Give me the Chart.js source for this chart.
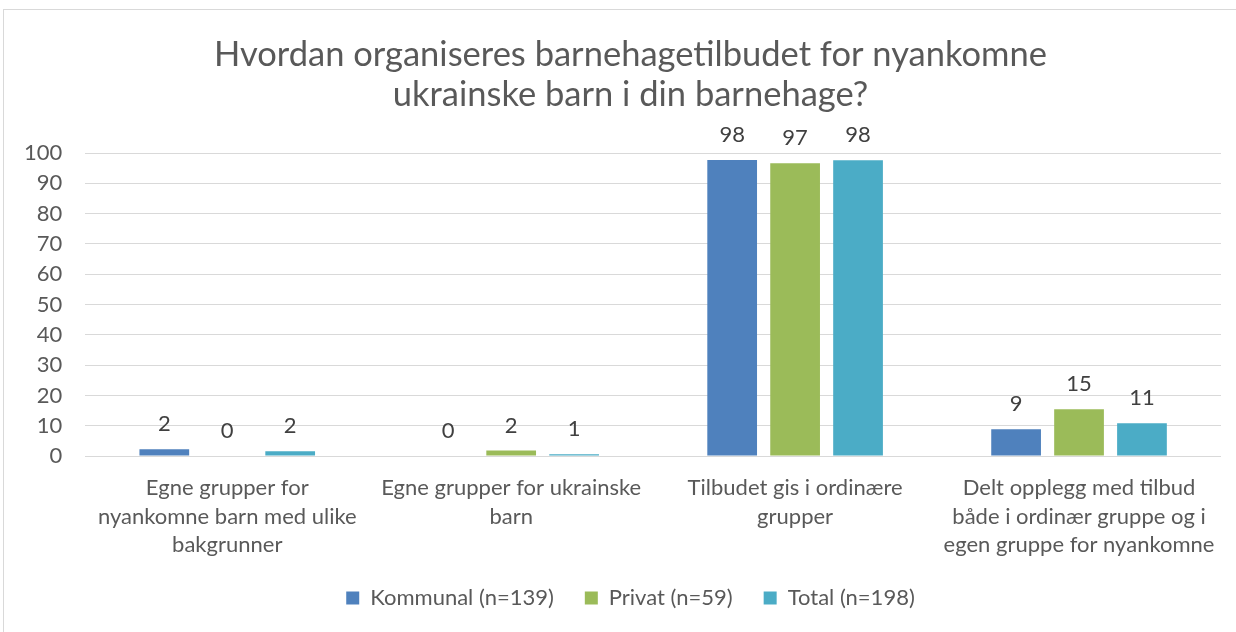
<!DOCTYPE html>
<html>
<head>
<meta charset="utf-8">
<script src="https://cdn.jsdelivr.net/npm/chart.js@4"></script>
<style>
    html, body { margin: 0; padding: 0; background: #fff; }
    body { width: 1236px; height: 632px; position: relative; overflow: hidden; }
    #frame { position: absolute; left: 3px; top: 9px; width: 1300px; height: 700px; border: 1px solid #d9d9d9; }
    #wrap { position: absolute; left: 0; top: 0; width: 1275px; height: 632px; }
</style>
</head>
<body>
<div id="frame"></div>
<div id="wrap"><canvas id="chart"></canvas></div>
<script>
const categories = [
    ['Egne grupper for', 'nyankomne barn med ulike', 'bakgrunner'],
    ['Egne grupper for ukrainske', 'barn'],
    ['Tilbudet gis i ordinære', 'grupper'],
    ['Delt opplegg med tilbud', 'både i ordinær gruppe og i', 'egen gruppe for nyankomne']
];
const kommunal = [2.2, 0, 97.7, 8.8];
const privat = [0, 1.8, 96.6, 15.4];
const total = [1.6, 0.6, 97.6, 10.8];
const yTicks = [0, 10, 20, 30, 40, 50, 60, 70, 80, 90, 100];

const FONT = 'Lato, "Open Sans", sans-serif';

// draws the rounded values above each bar
const barLabels = {
    id: 'barLabels',
    afterDatasetsDraw(chart) {
        const ctx = chart.ctx;
        ctx.save();
        ctx.font = '22px ' + FONT;
        ctx.fillStyle = '#404040';
        ctx.textAlign = 'center';
        ctx.textBaseline = 'middle';
        chart.data.datasets.forEach((ds, i) => {
            chart.getDatasetMeta(i).data.forEach((bar, j) => {
                ctx.fillText(Math.round(ds.data[j]), bar.x, bar.y - 25);
            });
        });
        ctx.restore();
    }
};

new Chart(document.getElementById('chart'), {
    type: 'bar',
    data: {
        labels: categories,
        datasets: [
            { label: 'Kommunal (n=139)', data: kommunal, backgroundColor: '#4f81bd' },
            { label: 'Privat (n=59)', data: privat, backgroundColor: '#9bbb59' },
            { label: 'Total (n=198)', data: total, backgroundColor: '#4bacc6' }
        ]
    },
    options: {
        responsive: true,
        maintainAspectRatio: false,
        animation: false,
        categoryPercentage: 0.665,
        barPercentage: 0.79,
        layout: { padding: { left: 1, right: 15, top: 8, bottom: 13 } },
        plugins: {
            title: {
                display: true,
                text: ['Hvordan organiseres barnehagetilbudet for nyankomne', 'ukrainske barn i din barnehage?'],
                color: '#595959',
                font: { family: FONT, size: 34.5, weight: 'normal', lineHeight: 1.16 },
                padding: { top: 27, bottom: 38 }
            },
            legend: {
                position: 'bottom',
                labels: {
                    color: '#595959',
                    font: { family: FONT, size: 22 },
                    boxWidth: 13,
                    boxHeight: 13,
                    padding: 31
                }
            },
            tooltip: { enabled: false }
        },
        scales: {
            x: {
                // fixed height so the legend sits where it should
                afterFit: s => { s.paddingLeft = 0; s.paddingRight = 0; s.height = 100; },
                grid: { display: false },
                border: { display: false },
                ticks: {
                    color: '#595959',
                    font: { family: FONT, size: 22, lineHeight: 1.295 },
                    maxRotation: 0,
                    autoSkip: false,
                    padding: 10
                }
            },
            y: {
                min: 0,
                max: 100,
                afterBuildTicks: axis => { axis.ticks = yTicks.map(v => ({ value: v })); },
                grid: { color: '#d9d9d9', drawTicks: false },
                border: { display: false },
                ticks: {
                    color: '#595959',
                    font: { family: FONT, size: 22 },
                    autoSkip: false,
                    padding: 23
                }
            },
            // empty spacer on the right, the original frame is wider than the window
            spacer: {
                type: 'linear',
                position: 'right',
                grid: { display: false },
                border: { display: false },
                ticks: { display: false },
                afterFit: s => { s.width = 39; }
            }
        }
    },
    plugins: [barLabels]
});
</script>
</body>
</html>
